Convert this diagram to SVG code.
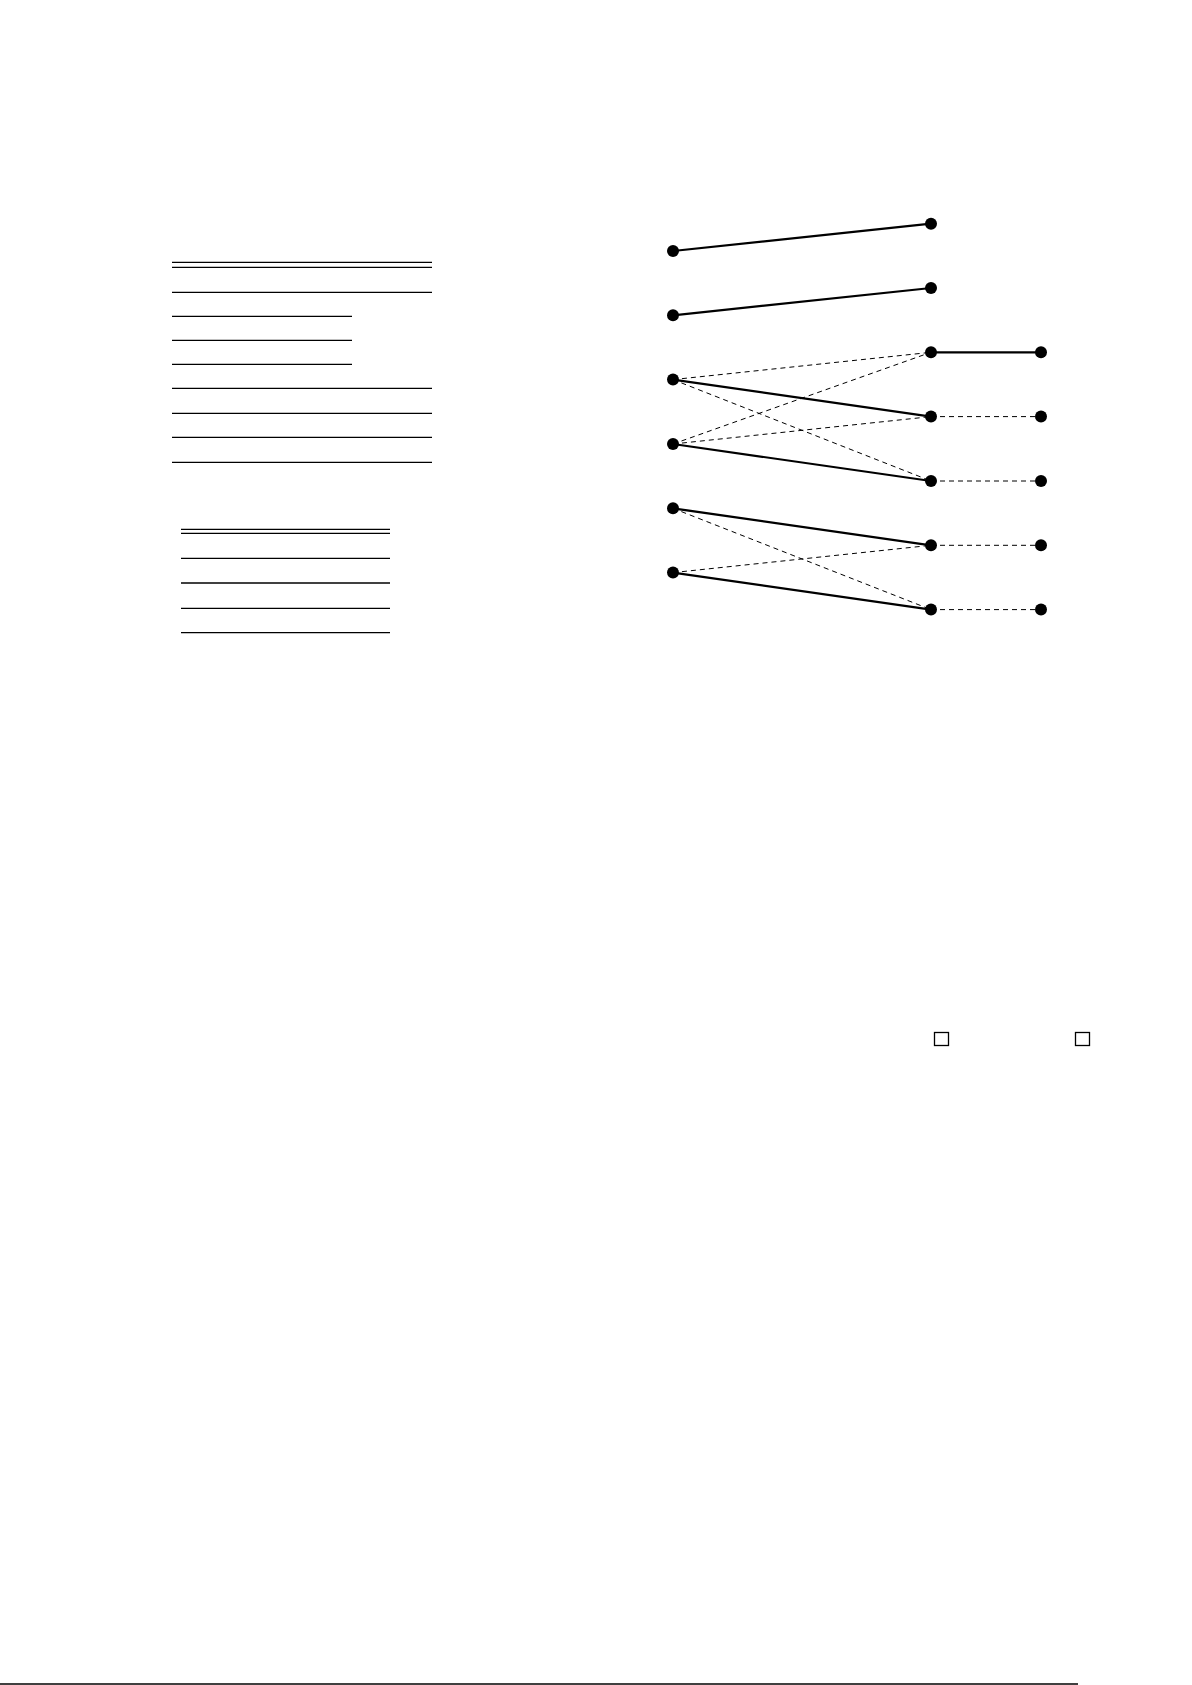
<svg xmlns="http://www.w3.org/2000/svg" width="1192" height="1685" viewBox="0 0 1192 1685">
<style>
.rule{stroke:#000;stroke-width:1.3;fill:none}
.solid{stroke:#000;stroke-width:2.2;fill:none}
.dash{stroke:#000;stroke-width:1;stroke-dasharray:5,4;fill:none}
.node{fill:#000}
.box{fill:#fff;stroke:#000;stroke-width:1.3}
</style>
<rect width="1192" height="1685" fill="#fff"/>
<g id="table1">
<line class="rule" x1="172" y1="262.3" x2="432" y2="262.3"/>
<line class="rule" x1="172" y1="267.3" x2="432" y2="267.3"/>
<line class="rule" x1="172" y1="292.3" x2="432" y2="292.3"/>
<line class="rule" x1="172" y1="316.3" x2="352" y2="316.3"/>
<line class="rule" x1="172" y1="340.3" x2="352" y2="340.3"/>
<line class="rule" x1="172" y1="364.3" x2="352" y2="364.3"/>
<line class="rule" x1="172" y1="388.3" x2="432" y2="388.3"/>
<line class="rule" x1="172" y1="413.3" x2="432" y2="413.3"/>
<line class="rule" x1="172" y1="437.3" x2="432" y2="437.3"/>
<line class="rule" x1="172" y1="462.3" x2="432" y2="462.3"/>
</g>
<g id="table2">
<line class="rule" x1="181" y1="529.3" x2="390" y2="529.3"/>
<line class="rule" x1="181" y1="533.3" x2="390" y2="533.3"/>
<line class="rule" x1="181" y1="558.3" x2="390" y2="558.3"/>
<line class="rule" x1="181" y1="583" x2="390" y2="583"/>
<line class="rule" x1="181" y1="608.3" x2="390" y2="608.3"/>
<line class="rule" x1="181" y1="632.7" x2="390" y2="632.7"/>
</g>
<g id="connectors">
<line class="solid" x1="673" y1="251" x2="931" y2="223.7"/>
<line class="solid" x1="673" y1="315.3" x2="931" y2="288"/>
<line class="solid" x1="673" y1="379.6" x2="931" y2="416.6"/>
<line class="solid" x1="673" y1="444" x2="931" y2="481"/>
<line class="solid" x1="673" y1="508.3" x2="931" y2="545.3"/>
<line class="solid" x1="673" y1="572.6" x2="931" y2="609.6"/>
<line class="solid" x1="931" y1="352.3" x2="1041" y2="352.3"/>
<line class="dash" x1="673" y1="379.6" x2="931" y2="352.3"/>
<line class="dash" x1="673" y1="379.6" x2="931" y2="481"/>
<line class="dash" x1="673" y1="444" x2="931" y2="352.3"/>
<line class="dash" x1="673" y1="444" x2="931" y2="416.6"/>
<line class="dash" x1="673" y1="508.3" x2="931" y2="609.6"/>
<line class="dash" x1="673" y1="572.6" x2="931" y2="545.3"/>
<line class="dash" x1="931" y1="416.6" x2="1041" y2="416.6"/>
<line class="dash" x1="931" y1="481" x2="1041" y2="481"/>
<line class="dash" x1="931" y1="545.3" x2="1041" y2="545.3"/>
<line class="dash" x1="931" y1="609.6" x2="1041" y2="609.6"/>
</g>
<g id="L1"><circle class="node" cx="673" cy="251" r="6"/></g>
<g id="L2"><circle class="node" cx="673" cy="315.3" r="6"/></g>
<g id="L3"><circle class="node" cx="673" cy="379.6" r="6"/></g>
<g id="L4"><circle class="node" cx="673" cy="444" r="6"/></g>
<g id="L5"><circle class="node" cx="673" cy="508.3" r="6"/></g>
<g id="L6"><circle class="node" cx="673" cy="572.6" r="6"/></g>
<g id="M1"><circle class="node" cx="931" cy="223.7" r="6"/></g>
<g id="M2"><circle class="node" cx="931" cy="288" r="6"/></g>
<g id="M3"><circle class="node" cx="931" cy="352.3" r="6"/></g>
<g id="M4"><circle class="node" cx="931" cy="416.6" r="6"/></g>
<g id="M5"><circle class="node" cx="931" cy="481" r="6"/></g>
<g id="M6"><circle class="node" cx="931" cy="545.3" r="6"/></g>
<g id="M7"><circle class="node" cx="931" cy="609.6" r="6"/></g>
<g id="R3"><circle class="node" cx="1041" cy="352.3" r="6"/></g>
<g id="R4"><circle class="node" cx="1041" cy="416.6" r="6"/></g>
<g id="R5"><circle class="node" cx="1041" cy="481" r="6"/></g>
<g id="R6"><circle class="node" cx="1041" cy="545.3" r="6"/></g>
<g id="R7"><circle class="node" cx="1041" cy="609.6" r="6"/></g>
<g id="boxes">
<rect class="box" x="934.5" y="1032.5" width="14" height="13"/>
<rect class="box" x="1075.5" y="1032.5" width="14" height="13"/>
</g>
<g id="footer">
<line x1="0" y1="1684" x2="1078" y2="1684" stroke="#000" stroke-width="1.5"/>
</g>
</svg>
